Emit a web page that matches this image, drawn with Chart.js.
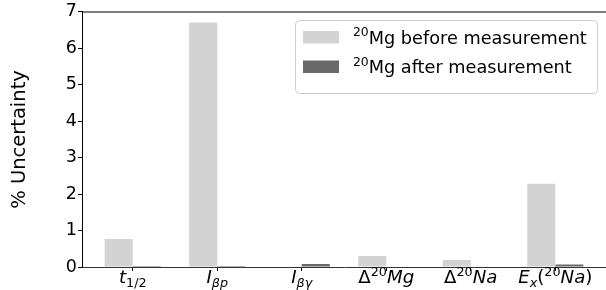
<!DOCTYPE html>
<html>
<head>
<meta charset="utf-8">
<script src="https://cdn.jsdelivr.net/npm/chart.js@4"></script>
<style>
  body { margin: 0; background: #fff; }
  #wrap { width: 606px; height: 290px; }
</style>
</head>
<body>
<div id="wrap"><canvas id="chart" width="606" height="290"></canvas></div>
<script>
// Data
const categories = ["t_1/2", "I_βp", "I_βγ", "Δ20Mg", "Δ20Na", "Ex(20Na)"];
const beforeValues = [0.77, 6.7, 0, 0.3, 0.19, 2.28];
const afterValues = [0.03, 0.03, 0.08, 0, 0, 0.07];
const yTicks = [0, 1, 2, 3, 4, 5, 6, 7];
const seriesNames = ["before measurement", "after measurement"];

const FONT = '"DejaVu Sans"';
const BASE = 17.5;
const XLAB = 18.2;

// math-ish labels: segments of text with italic / sub / sup
const sub = (t, it) => ({ t, it, s: 0.7, dy: 0.24 });
const sup = (t) => ({ t, it: false, s: 0.7, dy: -0.4 });
const it = (t) => ({ t, it: true, s: 1, dy: 0 });
const rm = (t) => ({ t, it: false, s: 1, dy: 0 });

const tickLabels = [
  [it("t"), sub("1/2", false)],
  [it("I"), sub("βp", true)],
  [it("I"), sub("βγ", true)],
  [rm("Δ"), sup("20"), it("Mg")],
  [rm("Δ"), sup("20"), it("Na")],
  [it("E"), sub("x", true), rm("("), sup("20"), it("Na"), rm(")")]
];

function segFont(seg, size) {
  return (seg.it ? "oblique " : "") + (size * seg.s) + "px " + FONT;
}

function drawMath(ctx, segs, x, y, size, align) {
  let w = 0;
  segs.forEach(seg => {
    ctx.font = segFont(seg, size);
    w += ctx.measureText(seg.t).width;
  });
  let cx = align === "center" ? x - w / 2 : x;
  ctx.textAlign = "left";
  ctx.textBaseline = "alphabetic";
  segs.forEach(seg => {
    ctx.font = segFont(seg, size);
    ctx.fillText(seg.t, cx, y + seg.dy * size);
    cx += ctx.measureText(seg.t).width;
  });
}

const colors = ["#d3d3d3", "#696969"];

const extras = {
  id: "extras",
  afterDraw(chart) {
    const ctx = chart.ctx;
    const area = chart.chartArea;
    const xs = chart.scales.x;
    ctx.save();
    // top spine
    ctx.strokeStyle = "#000";
    ctx.lineWidth = 1;
    ctx.beginPath();
    ctx.moveTo(area.left, area.top + 0.5);
    ctx.lineTo(area.right, area.top + 0.5);
    ctx.stroke();

    // x tick labels
    ctx.fillStyle = "#000";
    tickLabels.forEach((segs, i) => {
      drawMath(ctx, segs, xs.getPixelForValue(i), 283, XLAB, "center");
    });

    // y title
    ctx.save();
    ctx.translate(20, 139.5);
    ctx.rotate(-Math.PI / 2);
    ctx.font = "19.5px " + FONT;
    ctx.textAlign = "center";
    ctx.textBaseline = "middle";
    ctx.fillText("% Uncertainty", 0, 0);
    ctx.restore();

    // legend
    ctx.beginPath();
    ctx.roundRect(295.5, 20.5, 302, 73, 4);
    ctx.fillStyle = "rgba(255,255,255,0.8)";
    ctx.fill();
    ctx.strokeStyle = "#cccccc";
    ctx.stroke();
    const rows = [37, 66.5];
    rows.forEach((cy, i) => {
      ctx.fillStyle = colors[i];
      ctx.fillRect(303, cy - 6, 36, 12.5);
      ctx.fillStyle = "#000";
      drawMath(ctx, [sup("20"), rm("Mg " + seriesNames[i])], 353, cy + 6.5, 17.7, "left");
    });
    ctx.restore();
  }
};

new Chart(document.getElementById("chart"), {
  type: "bar",
  data: {
    datasets: [
      {
        label: "20Mg " + seriesNames[0],
        data: beforeValues.map((v, i) => ({ x: i, y: v })),
        backgroundColor: colors[0],
        borderWidth: 0
      },
      {
        label: "20Mg " + seriesNames[1],
        data: afterValues.map((v, i) => ({ x: i, y: v })),
        backgroundColor: colors[1],
        borderWidth: 0
      }
    ]
  },
  options: {
    responsive: false,
    animation: false,
    devicePixelRatio: 1,
    layout: { padding: { top: 11, left: 0, right: 0, bottom: 0 } },
    categoryPercentage: 0.664,
    barPercentage: 1,
    plugins: { legend: { display: false }, tooltip: { enabled: false } },
    scales: {
      x: {
        type: "linear",
        min: -0.6,
        max: 5.6,
        offset: false,
        bounds: "data",
        afterBuildTicks: (scale) => { scale.ticks = categories.map((c, i) => ({ value: i })); },
        afterFit: (scale) => { scale.height = 23; },
        ticks: { autoSkip: false, callback: () => "", font: { size: 1 } },
        grid: { offset: false, drawOnChartArea: false, drawTicks: true, tickLength: 4, color: "#000" },
        border: { display: true, color: "#333", width: 1 }
      },
      y: {
        min: 0,
        max: 7,
        afterBuildTicks: (scale) => { scale.ticks = yTicks.map(v => ({ value: v })); },
        afterFit: (scale) => { scale.width = 82; },
        ticks: { color: "#000", padding: 1, font: { family: FONT, size: BASE } },
        grid: { drawOnChartArea: false, drawTicks: true, tickLength: 4, color: "#000" },
        border: { display: true, color: "#000", width: 1 }
      }
    }
  },
  plugins: [extras]
});
</script>
</body>
</html>
